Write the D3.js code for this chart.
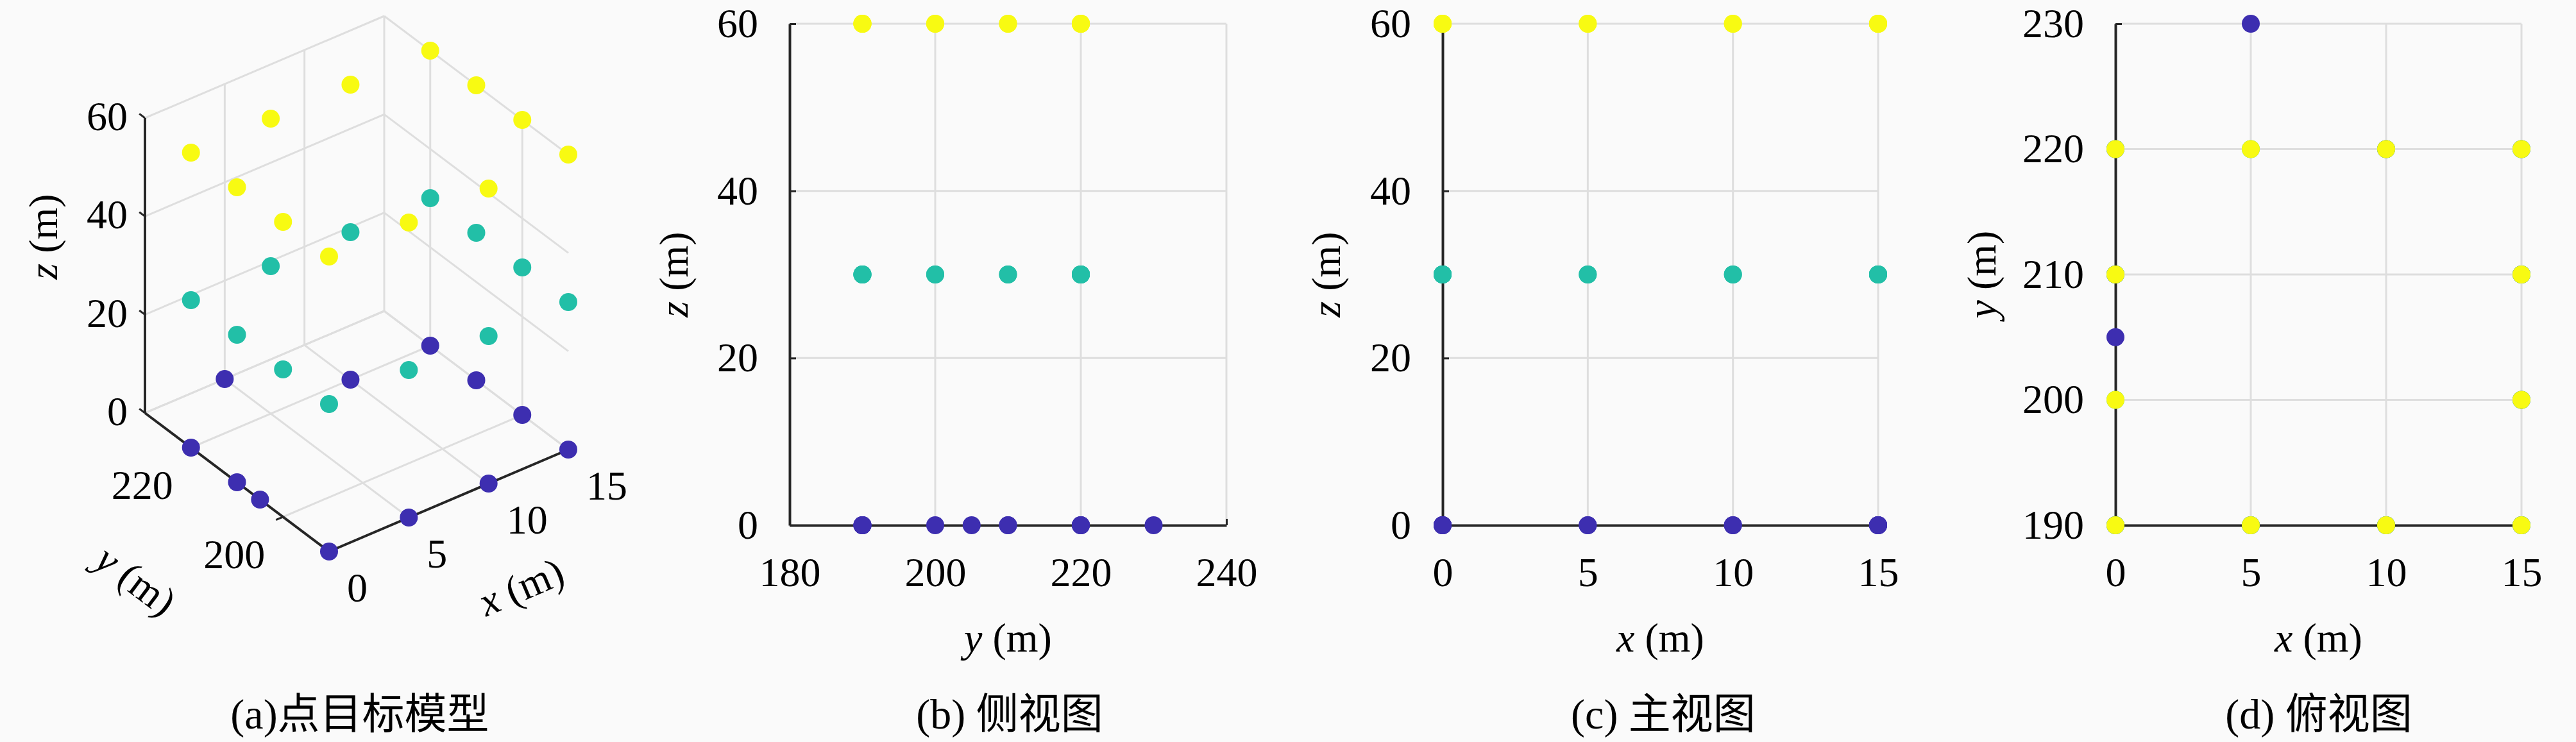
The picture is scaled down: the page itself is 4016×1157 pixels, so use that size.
<!DOCTYPE html>
<html><head><meta charset="utf-8">
<script src="https://cdn.jsdelivr.net/npm/d3@7/dist/d3.min.js"></script>
<style>body{margin:0;background:#fafafa} svg{display:block}</style>
</head><body><svg id="chart" width="4016" height="1157"></svg>
<script>
// ---------- data ----------
const xTicks = [0, 5, 10, 15];
const yTicks3D = [200, 220];
const zTicks = [0, 20, 40, 60];
const ySideTicks = [180, 200, 220, 240];
const yTopTicks = [190, 200, 210, 220, 230];
const levels = [0, 30, 60];
// point targets at z = 0
const baseX = [0, 5, 10, 15, 0, 0, 0, 5, 10, 15, 15, 15];
const baseY = [190, 190, 190, 190, 205, 210, 220, 230, 220, 220, 210, 200];
// point targets on the ring (z = 30 and z = 60)
const ringX = [0, 5, 10, 15, 0, 15, 0, 15, 0, 5, 10, 15];
const ringY = [190, 190, 190, 190, 200, 200, 210, 210, 220, 220, 220, 220];
const captions = ["(a)点目标模型", "(b) 侧视图", "(c) 主视图", "(d) 俯视图"];
const levelColors = ["#3d2eb0", "#22bfa7", "#f8fa12"];

// ---------- build points ----------
const points = [];
baseX.forEach((x, i) => points.push({x, y: baseY[i], z: levels[0], c: levelColors[0]}));
ringX.forEach((x, i) => points.push({x, y: ringY[i], z: levels[1], c: levelColors[1]}));
ringX.forEach((x, i) => points.push({x, y: ringY[i], z: levels[2], c: levelColors[2]}));

const svg = d3.select("#chart");
svg.append("rect").attr("width", 4016).attr("height", 1157).attr("fill", "#fafafa");
const SERIF = "Liberation Serif, Times New Roman, DejaVu Serif, serif";
const CJK = "Liberation Serif, Times New Roman, Noto Sans CJK SC, serif";
const FS = 64;
const GRID = "#dedede", AX = "#262626";
const R = 14;
const TOP = 37, BOTTOM = 819;

function axLabel(g, letter, x, y, rot) {
  const t = g.append("text").attr("transform", `translate(${x},${y}) rotate(${rot})`)
    .attr("text-anchor", "middle").attr("font-family", SERIF).attr("font-size", FS).attr("fill", "#000");
  t.append("tspan").attr("font-style", "italic").text(letter);
  t.append("tspan").text(" (m)");
}

// ---------- 3D panel ----------
(function () {
  const g = svg.append("g");
  const O = [513, 860], VX = [373, -159], VY = [-287, -216], VZ = [0, -460];
  const sx = d3.scaleLinear([0, 15], [0, 1]);
  const sy = d3.scaleLinear([190, 230], [0, 1]);
  const sz = d3.scaleLinear([0, 60], [0, 1]);
  const P = (x, y, z) => {
    const a = sx(x), b = sy(y), c = sz(z);
    return [O[0] + a * VX[0] + b * VY[0] + c * VZ[0], O[1] + a * VX[1] + b * VY[1] + c * VZ[1]];
  };
  const segs = [];
  // back wall y = 230
  xTicks.filter(v => v > 0).forEach(v => segs.push([[v, 230, 0], [v, 230, 60]]));
  zTicks.forEach(v => segs.push([[0, 230, v], [15, 230, v]]));
  // side wall x = 15
  yTicks3D.forEach(v => segs.push([[15, v, 0], [15, v, 60]]));
  zTicks.forEach(v => segs.push([[15, 190, v], [15, 230, v]]));
  // floor
  xTicks.filter(v => v > 0).forEach(v => segs.push([[v, 190, 0], [v, 230, 0]]));
  yTicks3D.concat([230]).forEach(v => segs.push([[0, v, 0], [15, v, 0]]));
  const line = d3.line();
  g.selectAll("path.grid").data(segs).join("path").attr("class", "grid")
    .attr("d", s => line([P(...s[0]), P(...s[1])]))
    .attr("stroke", GRID).attr("stroke-width", 3).attr("fill", "none");
  // axes
  const axes = [[[0, 230, 0], [0, 230, 60]], [[0, 190, 0], [0, 230, 0]], [[0, 190, 0], [15, 190, 0]]];
  g.selectAll("path.ax").data(axes).join("path").attr("class", "ax")
    .attr("d", s => line([P(...s[0]), P(...s[1])]))
    .attr("stroke", AX).attr("stroke-width", 4).attr("fill", "none");
  const unit = v => { const l = Math.hypot(v[0], v[1]); return [v[0] / l, v[1] / l]; };
  const uX = unit(VX), uY = unit(VY);
  const tick = (p, d, L) => line([p, [p[0] + d[0] * L, p[1] + d[1] * L]]);
  zTicks.forEach(v => {
    const p = P(0, 230, v);
    g.append("path").attr("d", tick(p, uY, 11)).attr("stroke", AX).attr("stroke-width", 3);
    g.append("text").attr("x", p[0] - 27).attr("y", p[1] + 19).attr("text-anchor", "end")
      .attr("font-family", SERIF).attr("font-size", FS).text(v);
  });
  yTicks3D.forEach(v => {
    const p = P(0, v, 0);
    g.append("path").attr("d", tick(p, [-uX[0], -uX[1]], 12)).attr("stroke", AX).attr("stroke-width", 3);
    g.append("text").attr("x", p[0] - 28).attr("y", p[1] + 80).attr("text-anchor", "end")
      .attr("font-family", SERIF).attr("font-size", FS).text(v);
  });
  xTicks.forEach(v => {
    const p = P(v, 190, 0);
    g.append("path").attr("d", tick(p, [-uY[0], -uY[1]], 12)).attr("stroke", AX).attr("stroke-width", 3);
    g.append("text").attr("x", p[0] + 28).attr("y", p[1] + 78).attr("text-anchor", "start")
      .attr("font-family", SERIF).attr("font-size", FS).text(v);
  });
  const angX = Math.atan2(VX[1], VX[0]) * 180 / Math.PI;
  const angY = Math.atan2(-VY[1], -VY[0]) * 180 / Math.PI;
  axLabel(g, "x", 821, 935, angX);
  axLabel(g, "y", 199, 922, angY);
  axLabel(g, "z", 89, 369, -90);
  // points sorted by depth (far first)
  const depth = d => -0.527 * sx(d.x) - 0.687 * sy(d.y) + 0.5 * sz(d.z);
  const sorted = points.slice().sort((a, b) => depth(a) - depth(b));
  g.selectAll("circle").data(sorted).join("circle")
    .attr("cx", d => P(d.x, d.y, d.z)[0]).attr("cy", d => P(d.x, d.y, d.z)[1])
    .attr("r", R).attr("fill", d => d.c);
})();

// ---------- 2D panels ----------
function panel(opt) {
  const g = svg.append("g");
  const xs = d3.scaleLinear(opt.xDom, opt.xRange);
  const ys = d3.scaleLinear(opt.yDom, [BOTTOM, TOP]);
  // grid
  g.selectAll("line.gx").data(opt.xTicks.slice(1)).join("line")
    .attr("x1", d => xs(d)).attr("x2", d => xs(d)).attr("y1", ys.range()[0]).attr("y2", ys.range()[1])
    .attr("stroke", GRID).attr("stroke-width", 3);
  g.selectAll("line.gy").data(opt.yTicks.slice(1)).join("line")
    .attr("y1", d => ys(d)).attr("y2", d => ys(d)).attr("x1", xs.range()[0]).attr("x2", xs.range()[1])
    .attr("stroke", GRID).attr("stroke-width", 3);
  const ax = g.append("g").attr("transform", `translate(0,${ys.range()[0]})`)
    .call(d3.axisBottom(xs).tickValues(opt.xTicks).tickSizeInner(-10).tickSizeOuter(0).tickPadding(50));
  const ay = g.append("g").attr("transform", `translate(${xs.range()[0]},0)`)
    .call(d3.axisLeft(ys).tickValues(opt.yTicks).tickSizeInner(-10).tickSizeOuter(0).tickPadding(49));
  [ax, ay].forEach(a => {
    a.attr("font-family", SERIF).attr("font-size", FS);
    a.select(".domain").attr("stroke", AX).attr("stroke-width", 4);
    a.selectAll(".tick line").attr("stroke", AX).attr("stroke-width", 3);
    a.selectAll(".tick text").attr("fill", "#000");
  });
  const cx = (xs.range()[0] + xs.range()[1]) / 2;
  axLabel(g, opt.xLab, cx, 1016, 0);
  axLabel(g, opt.yLab, opt.yLabX, (BOTTOM + TOP) / 2, -90);
  const pts = points.slice().sort((a, b) => a.z - b.z);
  g.selectAll("circle").data(pts).join("circle")
    .attr("cx", d => xs(d[opt.h])).attr("cy", d => ys(d[opt.v]))
    .attr("r", R).attr("fill", d => d.c);
}
panel({xDom: [180, 240], xRange: [1231, 1912], yDom: [0, 60], xTicks: ySideTicks, yTicks: zTicks,
       h: "y", v: "z", xLab: "y", yLab: "z", yLabX: 1072});
panel({xDom: [0, 15], xRange: [2249, 2928], yDom: [0, 60], xTicks: xTicks, yTicks: zTicks,
       h: "x", v: "z", xLab: "x", yLab: "z", yLabX: 2089});
panel({xDom: [0, 15], xRange: [3298, 3931], yDom: [190, 230], xTicks: xTicks, yTicks: yTopTicks,
       h: "x", v: "y", xLab: "x", yLab: "y", yLabX: 3111});

// ---------- captions ----------
const capX = [561, 1574, 2593, 3615];
svg.selectAll("text.cap").data(captions).join("text").attr("class", "cap")
  .attr("x", (d, i) => capX[i]).attr("y", 1136).attr("text-anchor", "middle")
  .attr("font-family", CJK).attr("font-size", 66).attr("fill", "#000").text(d => d);
</script></body></html>
